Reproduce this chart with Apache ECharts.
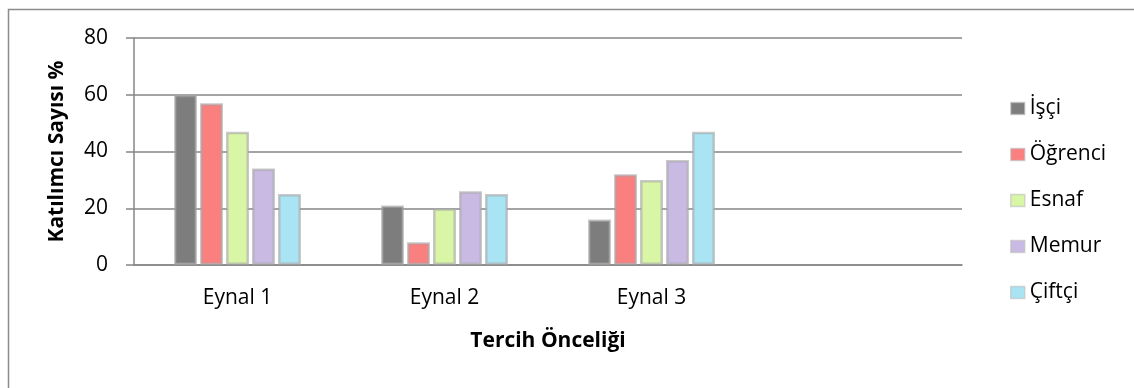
<!DOCTYPE html>
<html>
<head>
<meta charset="utf-8">
<script src="https://cdn.jsdelivr.net/npm/echarts@6/dist/echarts.min.js"></script>
<style>
  html, body { margin: 0; padding: 0; background: #fff; }
  #chart { width: 1134px; height: 388px; }
</style>
</head>
<body>
<div id="chart"></div>
<script>
// kategoriler (4. kategori boş bırakılmış)
var categories = ['Eynal 1', 'Eynal 2', 'Eynal 3', ''];
var seriesNames = ['İşçi', 'Öğrenci', 'Esnaf', 'Memur', 'Çiftçi'];
var isci = [60, 21, 16];
var ogrenci = [57, 8, 32];
var esnaf = [47, 20, 30];
var memur = [34, 26, 37];
var ciftci = [25, 25, 47];
var yTicks = [0, 20, 40, 60, 80];

var colors = ['#7d7d7d', '#fa7f7f', '#d9f5a6', '#c9bae4', '#a9e4f4'];
var font = '"Open Sans", sans-serif';

var allData = [isci, ogrenci, esnaf, memur, ciftci];
var series = allData.map(function (d, i) {
  return {
    name: seriesNames[i],
    type: 'bar',
    data: d,
    barWidth: 23,
    barGap: '13%',
    itemStyle: {
      color: colors[i],
      borderColor: 'rgba(165,165,165,0.6)',
      borderWidth: 2.5
    }
  };
});

var chart = echarts.init(document.getElementById('chart'));
chart.setOption({
  animation: false,
  color: colors,
  graphic: [{
    type: 'rect',
    shape: { x: 8.5, y: 9.5, width: 1140, height: 400 },
    style: { fill: 'none', stroke: '#8c8c8c', lineWidth: 1.5 },
    silent: true
  }],
  grid: { left: 134, right: 172, top: 38, bottom: 123 },
  legend: {
    orient: 'vertical',
    left: 1005,
    top: 93,
    itemWidth: 14,
    itemHeight: 12,
    itemGap: 25,
    icon: 'rect',
    itemStyle: { borderColor: 'rgba(190,190,190,0.6)', borderWidth: 1.5 },
    textStyle: { fontFamily: font, fontSize: 21, color: '#000' },
    data: seriesNames
  },
  xAxis: {
    type: 'category',
    data: categories,
    name: 'Tercih Önceliği',
    nameLocation: 'middle',
    nameGap: 66,
    nameTextStyle: { fontFamily: font, fontSize: 21, fontWeight: 'bold', color: '#000' },
    axisLine: { lineStyle: { color: '#868686', width: 1.5 } },
    axisTick: { show: false },
    axisLabel: { fontFamily: font, fontSize: 21, color: '#000', margin: 23 }
  },
  yAxis: {
    type: 'value',
    min: yTicks[0],
    max: yTicks[yTicks.length - 1],
    interval: 20,
    name: 'Katılımcı Sayısı %',
    nameLocation: 'middle',
    nameGap: 66,
    nameTextStyle: { fontFamily: font, fontSize: 21, fontWeight: 'bold', color: '#000' },
    axisLine: { show: true, lineStyle: { color: '#868686', width: 1.5 } },
    axisTick: { show: true, length: 8, lineStyle: { color: '#868686', width: 1.5 } },
    splitLine: { lineStyle: { color: '#868686', width: 1.5 } },
    axisLabel: { fontFamily: font, fontSize: 21, color: '#000', margin: 26 }
  },
  series: series
});
</script>
</body>
</html>
